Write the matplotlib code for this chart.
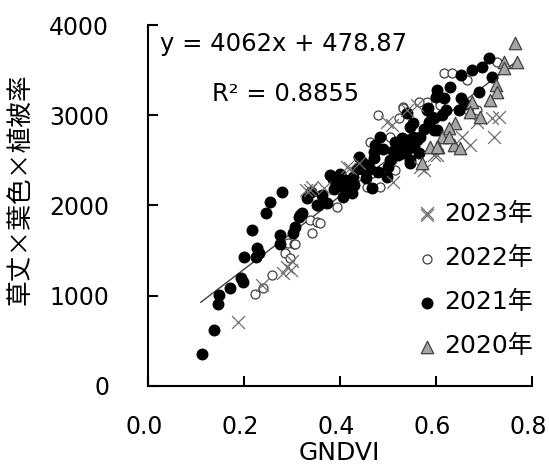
import numpy as np
import matplotlib
matplotlib.use("Agg")
import matplotlib.pyplot as plt
from matplotlib.transforms import ScaledTranslation

plt.rcParams['font.family'] = ['DejaVu Sans', 'Noto Sans CJK JP']

# ---------- data ----------
x23 = [0.188, 0.237, 0.282, 0.289, 0.297, 0.329, 0.341, 0.498, 0.508, 0.414,
       0.421, 0.338, 0.366, 0.511, 0.567, 0.581, 0.560, 0.731, 0.716, 0.720,
       0.671, 0.654, 0.595, 0.574, 0.685, 0.539, 0.602, 0.440, 0.300]
y23 = [710, 1117, 1246, 1320, 1283, 2170, 2207, 2928, 2891, 2429,
       2411, 2170, 2189, 2262, 2429, 1912, 3113, 2983, 2966, 2761,
       2669, 2761, 2558, 2392, 2928, 3058, 2558, 2470, 1380]

x22 = [0.223, 0.240, 0.258, 0.286, 0.292, 0.304, 0.296, 0.341, 0.338, 0.352,
       0.480, 0.522, 0.532, 0.463, 0.515, 0.456, 0.484, 0.393, 0.359, 0.307,
       0.616, 0.633, 0.665, 0.727, 0.685, 0.581, 0.564, 0.532, 0.609, 0.505,
       0.667, 0.508, 0.466]
y22 = [1017, 1080, 1228, 1468, 1579, 1571, 1413, 1697, 1838, 1819,
       3003, 2966, 3094, 2706, 2392, 2207, 2207, 1985, 1801, 1571,
       3464, 3471, 3390, 3593, 3058, 3150, 3150, 3076, 3113, 2760,
       3058, 2503, 2355]

x21 = [0.112, 0.138, 0.145, 0.148, 0.171, 0.194, 0.197, 0.199, 0.217, 0.224,
       0.227, 0.232, 0.245, 0.254, 0.279, 0.275, 0.274, 0.303, 0.307, 0.314,
       0.320, 0.331, 0.352, 0.317, 0.355, 0.373, 0.380, 0.393, 0.407, 0.407,
       0.425, 0.411, 0.428, 0.439, 0.449, 0.459, 0.466, 0.470, 0.473, 0.484,
       0.480, 0.498, 0.504, 0.525, 0.532, 0.539, 0.539, 0.546, 0.553, 0.560,
       0.564, 0.581, 0.595, 0.595, 0.710, 0.696, 0.675, 0.651, 0.630, 0.602,
       0.616, 0.651, 0.689, 0.716, 0.584, 0.592, 0.612, 0.647, 0.602, 0.546,
       0.553, 0.539, 0.546, 0.567, 0.362, 0.388, 0.430, 0.455, 0.490, 0.515,
       0.520, 0.500, 0.385, 0.400, 0.415, 0.445, 0.462, 0.435, 0.470, 0.510,
       0.530, 0.545, 0.555, 0.575, 0.585, 0.620, 0.660, 0.600, 0.340]
y21 = [348, 618, 906, 1006, 1087, 1198, 1147, 1431, 1727, 1424,
       1530, 1468, 1918, 2034, 2151, 1671, 1571, 1690, 1763, 1874,
       1912, 2078, 2004, 1893, 2004, 2023, 2337, 2262, 2207, 2096,
       2133, 2281, 2318, 2540, 2392, 2448, 2189, 2595, 2669, 2761,
       2373, 2318, 2503, 2651, 2577, 2725, 3021, 2503, 2910, 2725,
       2577, 3058, 2966, 2836, 3631, 3538, 3501, 3446, 3316, 3279,
       3187, 3187, 3261, 3427, 3076, 2983, 3003, 3058, 2836, 2872,
       2761, 2614, 2466, 2761, 2120, 2180, 2230, 2300, 2620, 2700,
       2560, 2420, 2290, 2350, 2230, 2480, 2400, 2400, 2520, 2600,
       2750, 2700, 2650, 2850, 2920, 3060, 3120, 3200, 2150]

x20 = [0.765, 0.769, 0.742, 0.741, 0.724, 0.727, 0.713, 0.675, 0.671, 0.692,
       0.640, 0.626, 0.613, 0.605, 0.637, 0.650, 0.626, 0.571, 0.588, 0.602]
y20 = [3797, 3593, 3593, 3520, 3335, 3261, 3168, 3150, 3039, 2983,
       2910, 2854, 2761, 2651, 2669, 2633, 2761, 2466, 2651, 2651]

slope, intercept, r2 = 4062, 478.87, 0.8855
fit_range = [0.11, 0.77]

# ---------- figure ----------
fig = plt.figure(figsize=(5.49, 4.66), dpi=100)
ax = fig.add_axes([0.2696, 0.1723, 0.6995, 0.774])

xf = np.array(fit_range)
ax.plot(xf, slope * xf + intercept, color="#404040", lw=1.0, zorder=1)

ax.scatter(x22, y22, s=42, facecolor="white", edgecolor="#404040", lw=0.9,
           zorder=2, label="2022年")
ax.scatter(x21, y21, s=74, color="black", lw=0, zorder=3, label="2021年")
ax.scatter(x23, y23, s=85, marker="x", color="#6e6e6e", lw=0.9, zorder=4,
           label="2023年")
ax.scatter(x20, y20, s=80, marker="^", facecolor="#a6a6a6", edgecolor="#404040",
           lw=0.9, zorder=5, label="2020年")

ax.set_xlim(0, 0.8)
ax.set_ylim(0, 4000)
ax.set_xticks(np.arange(0, 0.81, 0.2))
ax.set_yticks(np.arange(0, 4001, 1000))
ax.xaxis.set_major_formatter(matplotlib.ticker.FormatStrFormatter("%.1f"))
for s in ["top", "right"]:
    ax.spines[s].set_visible(False)
for s in ["left", "bottom"]:
    ax.spines[s].set_linewidth(1.5)
ax.tick_params(axis="both", direction="in", length=7, width=1.5, labelsize=17)
ax.tick_params(axis="x", pad=21)
ax.tick_params(axis="y", pad=28)

# x labels sit a little left of their ticks in the original
shift = ScaledTranslation(-4 / 100, 0, fig.dpi_scale_trans)
for lab in ax.get_xticklabels():
    lab.set_transform(lab.get_transform() + shift)

ax.text(0.025, 3795, f"y = {slope}x + {intercept}", fontsize=17.5, va="center")
ax.text(0.133, 3240, f"R² = {r2}", fontsize=17.5, va="center")

h, l = ax.get_legend_handles_labels()
order = [2, 0, 1, 3]
ax.legend([h[i] for i in order], [l[i] for i in order], frameon=False,
          fontsize=18, loc="center left", bbox_to_anchor=(0.661, 0.292),
          handletextpad=0.1, labelspacing=0.8, handlelength=1.2,
          borderaxespad=0)

fig.text(0.0364, 0.594, "草丈×葉色×植被率", rotation=90, fontsize=18.5,
         ha="center", va="center", family=["Noto Sans CJK JP", "DejaVu Sans"])
fig.text(339 / 549, 0.027, "GNDVI", fontsize=18, ha="center", va="center")

fig.savefig("out.png", dpi=100)
